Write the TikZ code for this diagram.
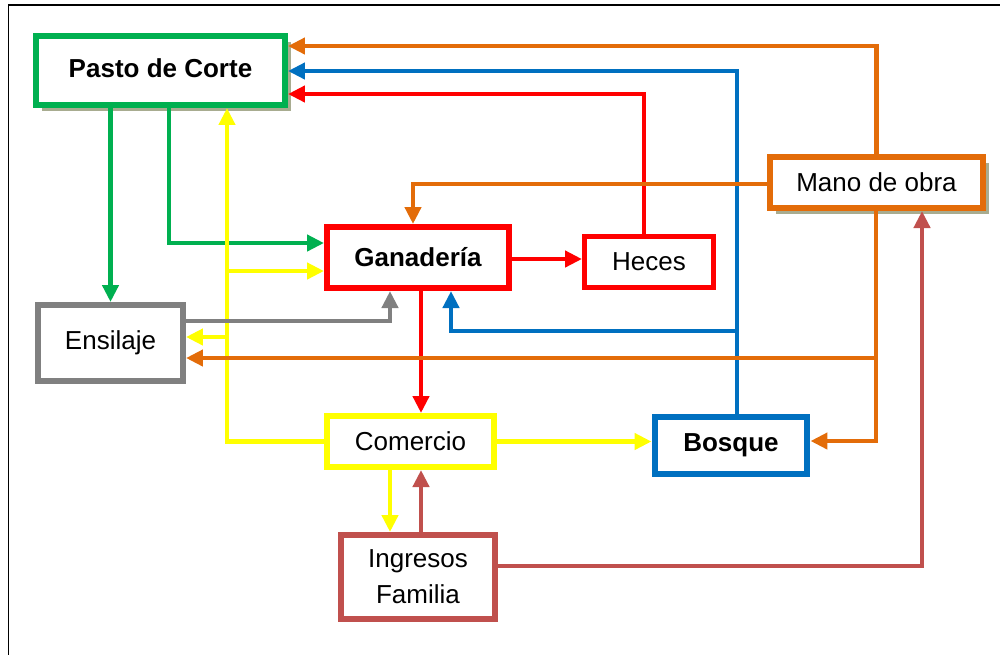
\documentclass[tikz,border=0pt]{standalone}
\usepackage{fontspec}
\setmainfont{Liberation Sans}
\usepackage{xcolor}
\usepackage{tikz}
\usetikzlibrary{arrows.meta, shadows}

\definecolor{cgreen}{HTML}{00B050}
\definecolor{cred}{HTML}{FF0000}
\definecolor{corange}{HTML}{E36C09}
\definecolor{cblue}{HTML}{0070C0}
\definecolor{cyellow}{HTML}{FFFF00}
\definecolor{cgray}{HTML}{808080}
\definecolor{cbrown}{HTML}{C0504D}
\definecolor{cshadow}{HTML}{A8AC90}

\tikzstyle{box} = [draw, fill=white, line width=0.12cm, inner sep=0pt, align=center, font=\fontsize{14.8}{20.4}\selectfont]
\tikzstyle{boldbox} = [box, font=\fontsize{14.8}{20.4}\selectfont\bfseries]
\tikzstyle{shade} = [drop shadow={shadow xshift=0.12cm, shadow yshift=-0.12cm, fill=cshadow, opacity=1}]
\tikzstyle{link} = [line width=0.085cm, -{Triangle[length=0.34cm, width=0.32cm]}]

\begin{document}
\begin{tikzpicture}[x=0.02cm, y=-0.02cm]
    \useasboundingbox (0,0) rectangle (1000,654);
    \clip (0,0) rectangle (1000,654);

    % Outer frame (only top and left edges show)
    \draw[line width=0.04cm] (8.5,720) |- (1100,4.5);

    % Boxes
    \node[boldbox, shade, draw=cgreen, minimum width=4.98cm, minimum height=1.38cm] (pasto) at (160.5,70.5) {\raisebox{3pt}{Pasto de Corte}};
    \node[boldbox, draw=cred, minimum width=3.64cm, minimum height=1.22cm] (gana) at (418,257.5) {Ganader\'ia};
    \node[box, draw=cred, line width=0.1cm, minimum width=2.58cm, minimum height=1.02cm] (heces) at (649,262) {Heces};
    \node[box, shade, draw=corange, minimum width=4.26cm, minimum height=1.02cm] (mano) at (876.5,182.5) {Mano de obra};
    \node[box, draw=cgray, minimum width=2.9cm, minimum height=1.52cm] (ensil) at (110.5,343) {\raisebox{3pt}{Ensilaje}};
    \node[box, draw=cyellow, minimum width=3.34cm, minimum height=1.02cm] (comercio) at (410.5,441.5) {Comercio};
    \node[boldbox, draw=cblue, minimum width=3.06cm, minimum height=1.14cm] (bosque) at (731,445.5) {Bosque};
    \node[box, draw=cbrown, minimum width=3.08cm, minimum height=1.68cm] (ingresos) at (418,577) {Ingresos\\Familia};

    % Green links
    \draw[link, cgreen] (ensil.north |- pasto.south) -- (ensil.north);
    \draw[link, cgreen] (pasto.south -| 169,0) |- (gana.west |- 0,243);

    % Yellow links
    \draw[link, cyellow] (comercio.west) -| (pasto.south -| 227,0);
    \draw[link, cyellow] (227,271) -- (gana.west |- 0,271);
    \draw[link, cyellow] (227,337) -- (ensil.east |- 0,337);
    \draw[link, cyellow] (comercio.east) -- (bosque.west |- comercio.east);
    \draw[link, cyellow] (comercio.south -| 390,0) -- (ingresos.north -| 390,0);

    % Gray link
    \draw[link, cgray] (ensil.east |- 0,321) -| (gana.south -| 390,0);

    % Red links
    \draw[link, cred] (gana.east |- 0,259) -- (heces.west |- 0,259);
    \draw[link, cred] (gana.south -| 421,0) -- (comercio.north -| 421,0);
    \draw[link, cred] (heces.north -| 644,0) |- (pasto.east |- 0,94);

    % Blue links
    \draw[link, cblue] (bosque.north -| 737,0) |- (pasto.east |- 0,71);
    \draw[link, cblue] (737,331) -| (gana.south -| 451,0);

    % Orange links
    \draw[link, corange] (mano.north) |- (pasto.east |- 0,46);
    \draw[link, corange] (mano.west |- 0,184) -| (gana.north -| 413,0);
    \draw[link, corange] (mano.south -| 876,0) |- (bosque.east |- 0,441);
    \draw[link, corange] (876,358) -- (ensil.east |- 0,358);

    % Brown links
    \draw[link, cbrown] (ingresos.north -| 421,0) -- (comercio.south -| 421,0);
    \draw[link, cbrown] (ingresos.east |- 0,566) -| (mano.south -| 922,0);
\end{tikzpicture}
\end{document}
